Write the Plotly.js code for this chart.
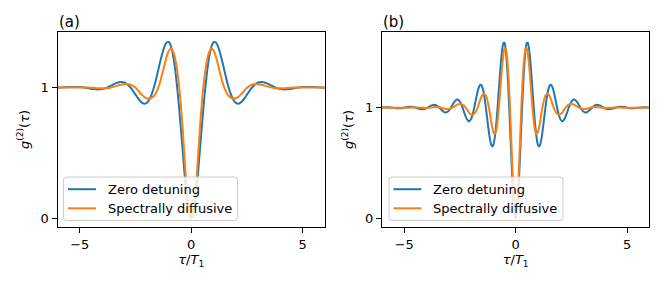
<!DOCTYPE html>
<html><head><meta charset="utf-8">
<script src="https://cdn.plot.ly/plotly-3.0.1.min.js"></script>
<style>html,body{margin:0;padding:0;background:#fff}#chart{width:664px;height:285px}</style>
</head><body><div id="chart"></div>
<script>
// Values for tau >= 0; the curves are symmetric in tau.
const tauA = [0,0.1,0.2,0.3,0.4,0.5,0.6,0.7,0.8,0.9,1.0,1.1,1.2,1.3,1.4,1.5,1.6,1.7,1.8,1.9,2.0,2.1,2.2,2.3,2.4,2.5,2.6,2.7,2.8,2.9,3.0,3.2,3.4,3.6,3.8,4.0,4.2,4.4,4.6,4.8,5.0,5.2,5.4,5.6,5.8,6.0];
const zeroDetuningA = [0,0.05,0.17,0.34,0.55,0.755,0.947,1.108,1.23,1.31,1.347,1.346,1.315,1.26,1.193,1.12,1.049,0.987,0.938,0.903,0.883,0.877,0.883,0.899,0.921,0.946,0.971,0.995,1.014,1.029,1.039,1.043,1.032,1.014,0.998,0.988,0.985,0.988,0.994,1.0,1.004,1.005,1.005,1.003,1.001,0.999];
const spectrallyDiffusiveA = [0,0.06,0.21,0.46,0.72,0.93,1.09,1.2,1.27,1.297,1.285,1.24,1.175,1.105,1.04,0.99,0.955,0.932,0.92,0.916,0.918,0.927,0.942,0.96,0.98,0.998,1.011,1.02,1.025,1.027,1.026,1.019,1.009,1.0,0.995,0.994,0.995,0.998,1.0,1.001,1.001,1.001,1.0,1.0,1.0,1.0];

const tauB = [0,0.05,0.1,0.15,0.2,0.25,0.3,0.35,0.4,0.45,0.5,0.55,0.6,0.65,0.7,0.75,0.8,0.85,0.9,0.95,1.0,1.05,1.1,1.15,1.2,1.25,1.3,1.35,1.4,1.45,1.5,1.55,1.6,1.65,1.7,1.75,1.8,1.85,1.9,1.95,2.0,2.1,2.2,2.3,2.4,2.5,2.6,2.7,2.8,2.9,3.0,3.1,3.2,3.3,3.4,3.5,3.6,3.7,3.8,3.9,4.0,4.2,4.4,4.6,4.8,5.0,5.2,5.4,5.6,5.8,6.0];
const zeroDetuningB = [0,0.044,0.168,0.353,0.576,0.815,1.048,1.254,1.419,1.531,1.586,1.585,1.533,1.439,1.316,1.177,1.035,0.904,0.794,0.713,0.664,0.649,0.666,0.711,0.777,0.856,0.94,1.021,1.093,1.15,1.188,1.206,1.205,1.185,1.152,1.108,1.059,1.01,0.964,0.926,0.898,0.877,0.9,0.951,1.009,1.053,1.073,1.065,1.037,1.002,0.973,0.958,0.959,0.974,0.994,1.012,1.024,1.025,1.018,1.007,0.995,0.985,0.994,1.007,1.008,1.0,0.995,0.997,1.002,1.003,1.001];
const spectrallyDiffusiveB = [0,0.06,0.23,0.46,0.72,0.98,1.2,1.37,1.48,1.537,1.535,1.48,1.39,1.27,1.14,1.01,0.9,0.82,0.772,0.762,0.78,0.82,0.875,0.94,1.0,1.05,1.09,1.113,1.122,1.122,1.113,1.092,1.065,1.035,1.005,0.98,0.96,0.946,0.94,0.938,0.94,0.958,0.988,1.015,1.03,1.034,1.03,1.018,1.004,0.993,0.988,0.988,0.991,0.997,1.003,1.006,1.006,1.004,1.001,0.999,0.998,0.999,1.001,1.001,1.0,1.0,1.0,1.0,1.0,1.0,1.0];

const seriesNames = ['Zero detuning', 'Spectrally diffusive'];
const panelLabels = ['(a)', '(b)'];
const xTicks = [-5, 0, 5];
const yTicks = [0, 1];

function mirrorX(t){ return t.slice(1).reverse().map(v => -v).concat(t); }
function mirrorY(v){ return v.slice(1).reverse().concat(v); }

const W = 664, H = 285;
const colors = ['#1f77b4', '#ff7f0e'];
const FONT = 'DejaVu Sans, sans-serif';
const px = v => v / W, py = v => 1 - v / H;

function lineTrace(x, y, i, xa, ya){
  return {x: x, y: y, name: seriesNames[i], xaxis: xa, yaxis: ya, mode: 'lines', showlegend: false,
    line: {color: colors[i], width: 2, shape: 'spline', smoothing: 0.6}};
}
const traces = [
  lineTrace(mirrorX(tauA), mirrorY(zeroDetuningA), 0, 'x', 'y'),
  lineTrace(mirrorX(tauA), mirrorY(spectrallyDiffusiveA), 1, 'x', 'y'),
  lineTrace(mirrorX(tauB), mirrorY(zeroDetuningB), 0, 'x2', 'y2'),
  lineTrace(mirrorX(tauB), mirrorY(spectrallyDiffusiveB), 1, 'x2', 'y2')
];

function xax(domain, anchor){
  return {domain: domain, anchor: anchor, range:[-6,6], tickvals:xTicks, ticks:'outside', ticklen:5, tickwidth:1, tickcolor:'#000',
    showline:true, mirror:true, linecolor:'#000', linewidth:1, showgrid:false, zeroline:false,
    tickfont:{family:FONT, size:13, color:'#000'},
    title:{text:'<i>τ</i>/<i>T</i><sub>1</sub>', font:{family:FONT, size:13, color:'#000'}, standoff:4}};
}
function yax(range, anchor){
  return {domain:[0.2035, 0.8877], anchor: anchor, range: range, tickvals:yTicks, ticks:'outside', ticklen:5, tickwidth:1, tickcolor:'#000',
    showline:true, mirror:true, linecolor:'#000', linewidth:1, showgrid:false, zeroline:false,
    tickfont:{family:FONT, size:13, color:'#000'},
    title:{text:'<i>g</i><sup>(2)</sup>(<i>τ</i>)', font:{family:FONT, size:13, color:'#000'}, standoff:8}};
}

// Legend boxes drawn in pixel positions (styling only)
const shapes = [], annotations = [];
[63.5, 389].forEach(function(left){
  const top = 177, bottom = 220.5, right = left + 174, r = 3;
  const path = 'M' + px(left + r) + ',' + py(top) +
    ' L' + px(right - r) + ',' + py(top) + ' Q' + px(right) + ',' + py(top) + ' ' + px(right) + ',' + py(top + r) +
    ' L' + px(right) + ',' + py(bottom - r) + ' Q' + px(right) + ',' + py(bottom) + ' ' + px(right - r) + ',' + py(bottom) +
    ' L' + px(left + r) + ',' + py(bottom) + ' Q' + px(left) + ',' + py(bottom) + ' ' + px(left) + ',' + py(bottom - r) +
    ' L' + px(left) + ',' + py(top + r) + ' Q' + px(left) + ',' + py(top) + ' ' + px(left + r) + ',' + py(top) + ' Z';
  shapes.push({type:'path', xref:'paper', yref:'paper', path: path, fillcolor:'rgba(255,255,255,0.8)', line:{color:'#cccccc', width:1}, layer:'above'});
  [189.2, 208.3].forEach(function(rowY, i){
    shapes.push({type:'line', xref:'paper', yref:'paper', x0: px(left + 4.5), x1: px(left + 32.5), y0: py(rowY), y1: py(rowY), line:{color: colors[i], width: 2}, layer:'above'});
    annotations.push({text: seriesNames[i], xref:'paper', yref:'paper', x: px(left + 42), y: py(rowY), xanchor:'left', yanchor:'middle',
      showarrow:false, font:{family:FONT, size:13, color:'#000'}});
  });
});
annotations.push({text:panelLabels[0], xref:'paper', yref:'paper', x:0.0856, y:py(22), xanchor:'left', yanchor:'middle', showarrow:false, font:{family:FONT, size:15, color:'#000'}});
annotations.push({text:panelLabels[1], xref:'paper', yref:'paper', x:0.5743, y:py(22), xanchor:'left', yanchor:'middle', showarrow:false, font:{family:FONT, size:15, color:'#000'}});

const layout = {
  width:W, height:H, margin:{l:0,r:0,t:0,b:0}, paper_bgcolor:'#fff', plot_bgcolor:'#fff',
  showlegend:false, font:{family:FONT, size:13, color:'#000'},
  xaxis: xax([0.0866, 0.4895], 'y'),
  yaxis: yax([-0.067, 1.425], 'x'),
  xaxis2: xax([0.5753, 0.9779], 'y2'),
  yaxis2: yax([-0.079, 1.684], 'x2'),
  shapes: shapes,
  annotations: annotations
};

Plotly.newPlot('chart', traces, layout, {displayModeBar:false, staticPlot:true});
</script></body></html>
